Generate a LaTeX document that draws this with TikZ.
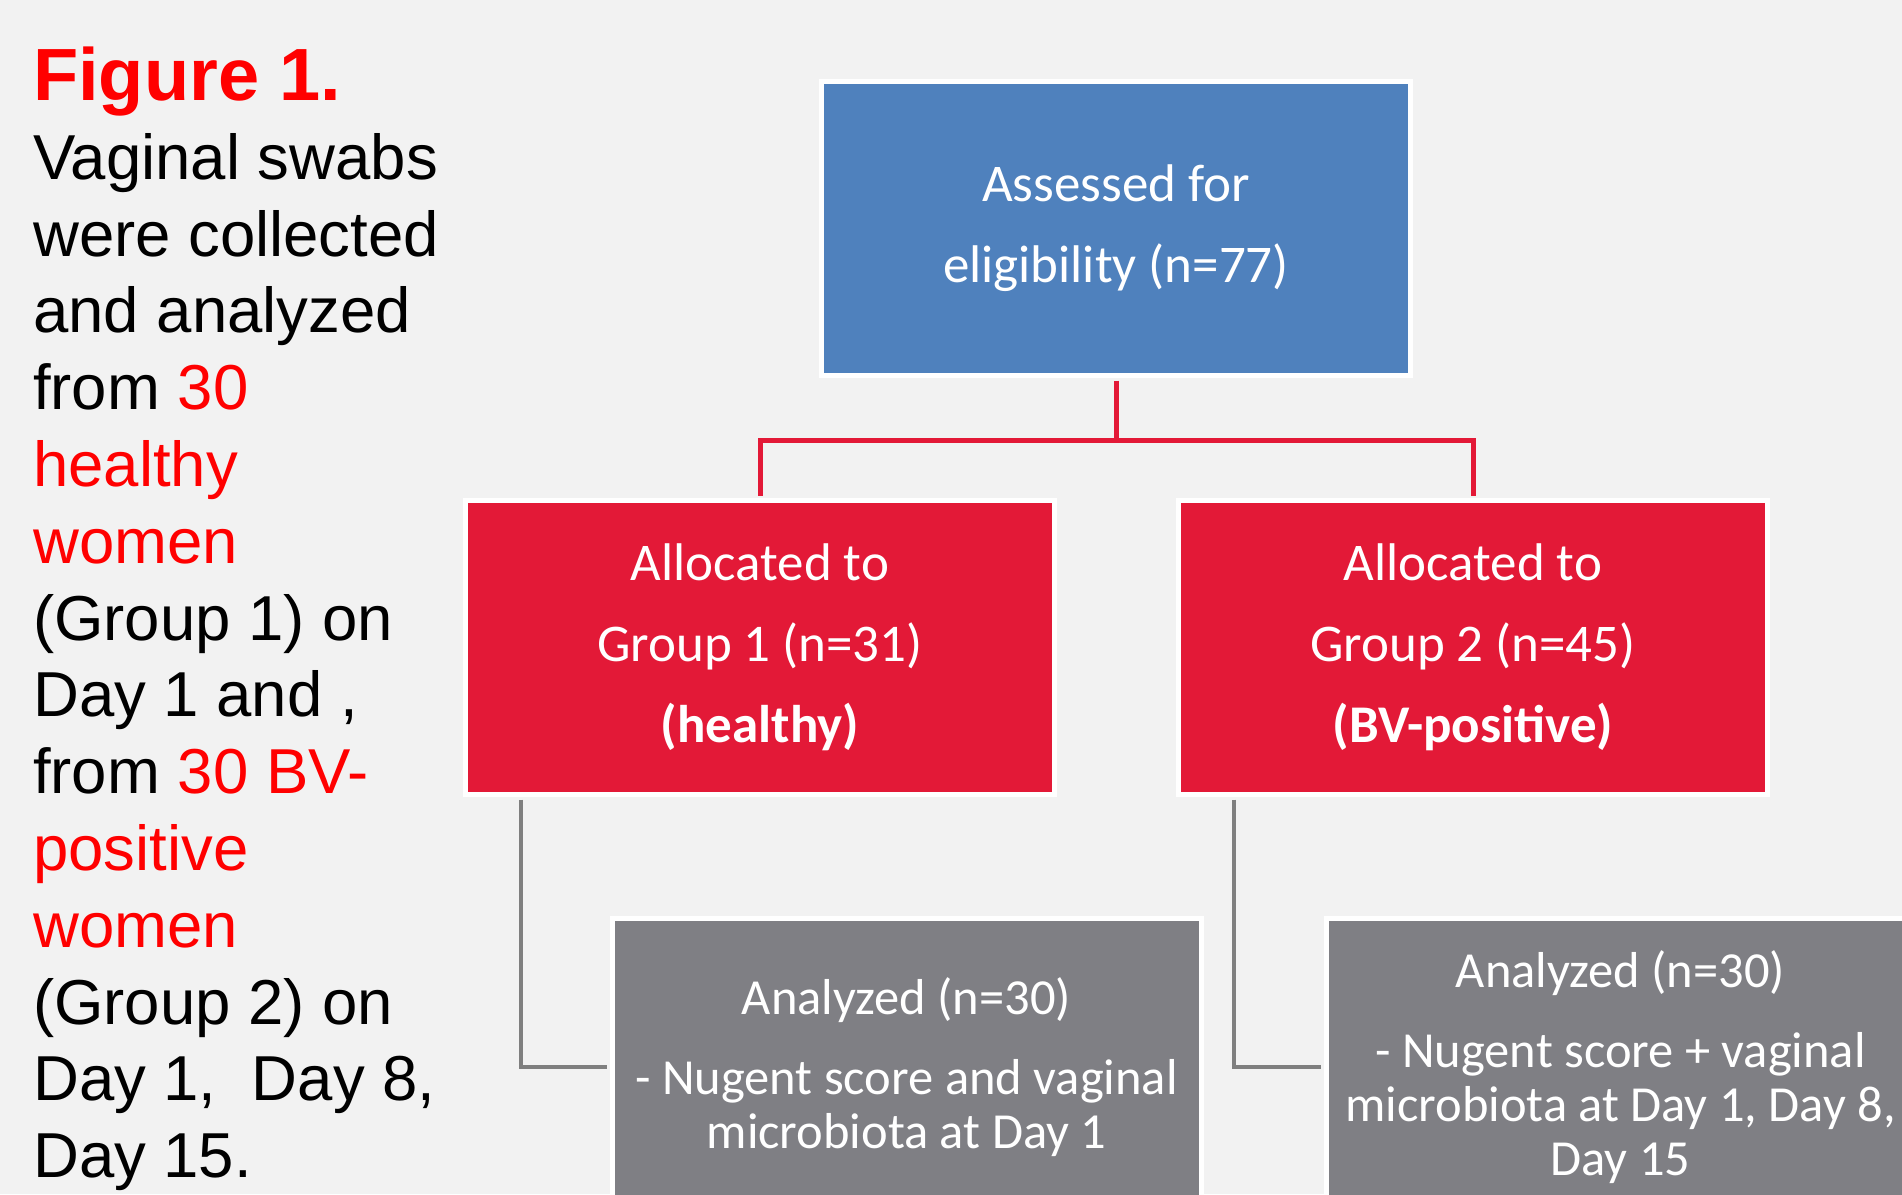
\documentclass[tikz,border=0pt]{standalone}
\usepackage{fontspec}
\setmainfont{Liberation Sans}
\newfontfamily\boxfont{Carlito}
\usetikzlibrary{calc}
\definecolor{bgcol}{HTML}{F2F2F2}
\definecolor{boxblue}{HTML}{4F81BD}
\definecolor{boxred}{HTML}{E31937}
\definecolor{boxgray}{HTML}{7F7F84}
\definecolor{linegray}{HTML}{7F7F7F}

\begin{document}
\begin{tikzpicture}[x=1pt,y=-1pt,
  box/.style={draw=white,line width=5pt,inner sep=0pt,minimum width=589pt,
    minimum height=294pt,text=white,align=center,
    font={\boxfont\fontsize{53}{81}\selectfont}},
  anabox/.style={box,fill=boxgray,minimum height=297pt,
    font={\boxfont\fontsize{50.5}{54}\selectfont}},
  redline/.style={draw=boxred,line width=5pt,shorten <=2.5pt,shorten >=2.5pt},
  grayline/.style={draw=linegray,line width=4pt,shorten <=2.5pt,shorten >=2.5pt}]
\useasboundingbox (0,0) rectangle (1902,1194);
\fill[bgcol] (0,0) rectangle (1902,1194);
\clip (0,0) rectangle (1902,1194);

\node[anchor=north west,inner sep=0pt,text=red,
  font={\bfseries\fontsize{74}{76}\selectfont}] (title) at (33,47) {Figure 1.};
\node[anchor=north west,inner sep=0pt,align=left,
  font={\fontsize{63.5}{76.8}\selectfont}] (caption) at (33,133)
  {Vaginal swabs\\
   were collected\\
   and analyzed\\
   from \textcolor{red}{30}\\
   \textcolor{red}{healthy}\\
   \textcolor{red}{women}\\
   (Group 1) on\\
   Day 1 and ,\\
   from \textcolor{red}{30 BV-}\\
   \textcolor{red}{positive}\\
   \textcolor{red}{women}\\
   (Group 2) on\\
   Day 1,~ Day 8,\\
   Day 15.};

\node[box,fill=boxblue] (assess) at (1116,228.5) {Assessed for\\eligibility (n=77)};
\node[box,fill=boxred] (grp1) at (760,647.5) {Allocated to\\Group 1 (n=31)\\\textbf{(healthy)}};
\node[box,fill=boxred] (grp2) at (1473,647.5) {Allocated to\\Group 2 (n=45)\\\textbf{(BV-positive)}};
\node[anabox] (ana1) at (906.5,1067) {Analyzed (n=30)\\[26pt]- Nugent score and vaginal\\microbiota at Day 1};
\node[anabox] (ana2) at (1620.5,1067) {Analyzed (n=30)\\[26pt]- Nugent score + vaginal\\microbiota at Day 1, Day 8,\\Day 15};

\draw[redline] (assess.south) -- ++(0,62.5) coordinate (split);
\draw[redline,shorten <=0pt] (split) -| (grp1.north);
\draw[redline,shorten <=0pt] (split) -| (grp2.north);
\draw[grayline] ([xshift=58pt]grp1.south west) |- (ana1.west);
\draw[grayline] ([xshift=58pt]grp2.south west) |- (ana2.west);
\end{tikzpicture}
\end{document}
